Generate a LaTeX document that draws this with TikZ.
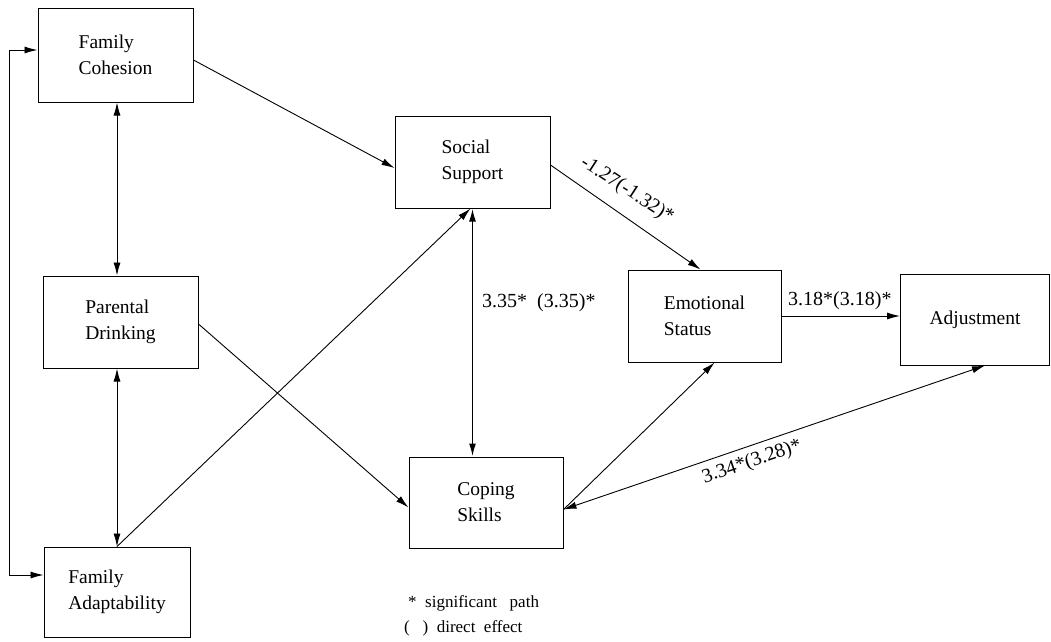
\documentclass[tikz,border=0pt]{standalone}
\usepackage{fontspec}
\setmainfont{Liberation Serif}
\usetikzlibrary{arrows.meta}
\begin{document}
\begin{tikzpicture}[x=1pt,y=-1pt,
  box/.style={draw, line width=1pt, rectangle, align=left, inner sep=0pt,
              font=\fontsize{19.5}{26}\selectfont},
  tip/.style={-{Latex[length=13pt,width=7pt]}},
  both/.style={{Latex[length=13pt,width=7pt]}-{Latex[length=13pt,width=7pt]}},
  conn/.style={line width=0.9pt},
  lab/.style={font=\fontsize{20}{24}\selectfont, inner sep=0pt},
  legend/.style={font=\fontsize{17}{24}\selectfont, inner sep=0pt, anchor=base west}
]
\useasboundingbox (0,0) rectangle (1051,641);

% boxes
\node[box, minimum width=155pt, minimum height=94pt] (coh) at (115.5,55) {Family\\Cohesion};
\node[box, minimum width=155pt, minimum height=92pt] (par) at (120.5,322) {Parental\\Drinking};
\node[box, minimum width=146pt, minimum height=90pt] (ada) at (117,592) {Family\\Adaptability};
\node[box, minimum width=155pt, minimum height=92pt] (soc) at (472.5,162) {Social\\Support};
\node[box, minimum width=153pt, minimum height=92pt] (emo) at (704.5,316) {Emotional\\Status};
\node[box, minimum width=149pt, minimum height=91pt] (adj) at (975,319.5) {Adjustment};
\node[box, minimum width=154pt, minimum height=91pt] (cop) at (486,502.5) {Coping\\Skills};

% connectors
\draw[conn, both] ([yshift=5pt]coh.west) -- ++(-28pt,0) |- ([yshift=17pt]ada.west);
\draw[conn, both] ([xshift=1.5pt]coh.south) -- ([xshift=1.5pt]coh.south |- par.north);
\draw[conn, both] (ada.north |- par.south) -- (ada.north);
\draw[conn, tip] (ada.north) -- ([xshift=-2pt]soc.south);
\draw[line width=1.8pt, both] (soc.south) -- (soc.south |- cop.north);
\draw[conn, tip] ([yshift=-5pt]coh.east) -- ([yshift=-6pt]soc.west);
\draw[conn, tip] ([yshift=-2pt]par.east) -- ([yshift=-5pt]cop.west);
\draw[conn, tip] ([yshift=-3pt]soc.east) -- ([xshift=-4pt]emo.north);
\draw[conn, tip] (emo.east) -- (emo.east -| adj.west);
\draw[conn, tip] ([yshift=-7pt]cop.east) -- ([xshift=10pt]emo.south);
\draw[conn, both] ([yshift=-7pt]cop.east) -- ([xshift=10pt]adj.south);

% path labels
\node[lab, rotate=-33] (l1) at (627,190) {-1.27(-1.32)*};
\node[lab, anchor=base west] (l2) at (482,307) {3.35*\ \ (3.35)*};
\node[lab, anchor=base west] (l3) at (788,305) {3.18*(3.18)*};
\node[lab, rotate=18.7] (l4) at (752,462) {3.34*(3.28)*};

% legend
\node[legend] (lg1) at (408,607) {*\ \ significant\ \ \ path};
\node[legend] (lg2) at (404,632) {(\ \ \ )\ \ direct\ \ effect};
\end{tikzpicture}
\end{document}
